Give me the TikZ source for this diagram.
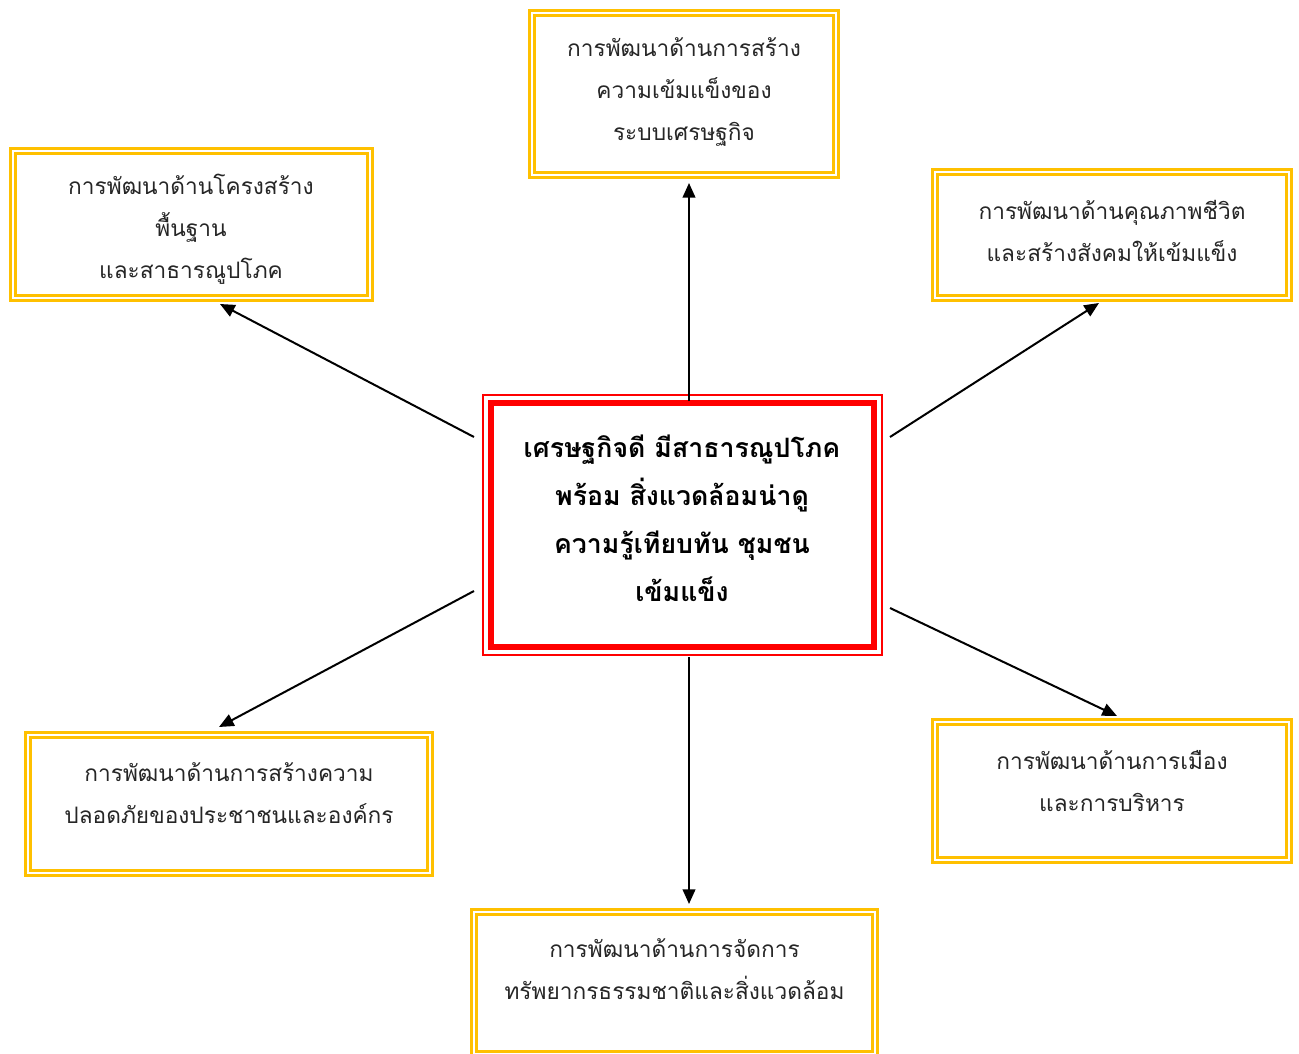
\documentclass[tikz,border=0pt]{standalone}
\usepackage{fontspec}
\newfontfamily\thaifont[Script=Thai]{Loma}
\usetikzlibrary{arrows.meta}
\definecolor{gold}{HTML}{FFC000}
\definecolor{hubred}{HTML}{FF0000}
\begin{document}
\begin{tikzpicture}[x=0.75pt,y=-0.75pt,
  goldbox/.style={draw=gold, line width=1.9pt, double=white, double distance=1.9pt,
    fill=white, rectangle, inner sep=0pt},
  boxtext/.style={font=\thaifont\fontsize{17}{31.5}\selectfont, align=center, text=black!85},
  hubtext/.style={font=\thaifont\bfseries\fontsize{20}{36}\selectfont, align=center},
  link/.style={line width=1.5pt, -{Triangle[length=11pt,width=9.5pt]}}]
\useasboundingbox[fill=white] (0,0) rectangle (1299,1053);

% central box: thick red frame between two thin red frames
\node[draw=hubred, line width=4.5pt, minimum width=287.25pt, minimum height=183pt,
      inner sep=0pt] (hub) at (682.5,525) {};
\draw[hubred, line width=1.1pt] ([shift={(-3.6pt,-3.6pt)}]hub.south west)
      rectangle ([shift={(3.6pt,3.6pt)}]hub.north east);
\draw[hubred, line width=1.1pt] ([shift={(3.9pt,3.9pt)}]hub.south west)
      rectangle ([shift={(-3.9pt,-3.9pt)}]hub.north east);
\node[hubtext] (hubt) at (682,518)
  {เศรษฐกิจดี มีสาธารณูปโภค\\พร้อม สิ่งแวดล้อมน่าดู\\ความรู้เทียบทัน ชุมชน\\เข้มแข็ง};

% surrounding boxes
\node[goldbox, minimum width=228pt, minimum height=121.5pt] (top) at (684,94) {};
\node[boxtext] (topt) at (684,92) {การพัฒนาด้านการสร้าง\\ความเข้มแข็งของ\\ระบบเศรษฐกิจ};

\node[goldbox, minimum width=267.75pt, minimum height=110.25pt] (tl) at (191.5,224.5) {};
\node[boxtext] (tlt) at (191,229) {การพัฒนาด้านโครงสร้าง\\พื้นฐาน\\และสาธารณูปโภค};

\node[goldbox, minimum width=265.5pt, minimum height=94.5pt] (tr) at (1112,235) {};
\node[boxtext] (trt) at (1112,230.5) {การพัฒนาด้านคุณภาพชีวิต\\และสร้างสังคมให้เข้มแข็ง};

\node[goldbox, minimum width=301.5pt, minimum height=103.5pt] (bl) at (229,804) {};
\node[boxtext] (blt) at (229,793) {การพัฒนาด้านการสร้างความ\\ปลอดภัยของประชาชนและองค์กร};

\node[goldbox, minimum width=265.5pt, minimum height=103.5pt] (br) at (1112,791) {};
\node[boxtext] (brt) at (1112,781) {การพัฒนาด้านการเมือง\\และการบริหาร};

\node[goldbox, minimum width=300.75pt, minimum height=106.5pt] (bot) at (674.5,983) {};
\node[boxtext] (bott) at (674.5,969) {การพัฒนาด้านการจัดการ\\ทรัพยากรธรรมชาติและสิ่งแวดล้อม};

% connector ends
\coordinate (sT)  at (689,401);  \coordinate (eT)  at (689,183);
\coordinate (sTL) at (474,437);  \coordinate (eTL) at (220,304);
\coordinate (sTR) at (890,437);  \coordinate (eTR) at (1099,303);
\coordinate (sBL) at (474,591);  \coordinate (eBL) at (219,727);
\coordinate (sB)  at (689,657);  \coordinate (eB)  at (689,904);
\coordinate (sBR) at (890,608);  \coordinate (eBR) at (1117,716);

\draw[link] (sT) -- (eT);
\draw[link] (sTL) -- (eTL);
\draw[link] (sTR) -- (eTR);
\draw[link] (sBL) -- (eBL);
\draw[link] (sB) -- (eB);
\draw[link] (sBR) -- (eBR);
\end{tikzpicture}
\end{document}
